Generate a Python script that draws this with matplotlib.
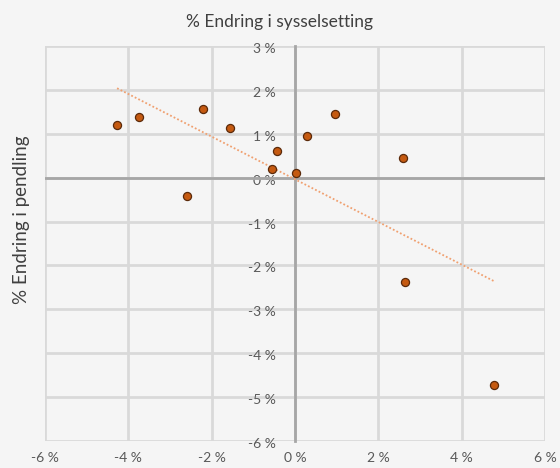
import numpy as np
import matplotlib
matplotlib.use("Agg")
import matplotlib.pyplot as plt
import matplotlib.transforms as mtransforms
from matplotlib.ticker import FuncFormatter

# Data: % change in employment (x) vs % change in commuting (y)
sysselsetting = [-4.27, -3.75, -2.21, -1.57, -0.44, -0.56, 0.02, 0.28, -2.60, 0.96, 2.59, 2.63, 4.78]
pendling = [1.19, 1.39, 1.57, 1.14, 0.60, 0.19, 0.11, 0.95, -0.41, 1.45, 0.45, -2.38, -4.72]
x_ticks = [-6, -4, -2, 0, 2, 4, 6]
y_ticks = [-6, -5, -4, -3, -2, -1, 0, 1, 2, 3]
title = "% Endring i sysselsetting"
ylabel = "% Endring i pendling"

plt.rcParams['font.family'] = ['Lato', 'DejaVu Sans']
bg = "#f5f5f5"
grid_c = "#d9d9d9"
axis_c = "#a6a6a6"
text_c = "#595959"

fig = plt.figure(figsize=(5.6, 4.68), dpi=100, facecolor=bg)
ax = fig.add_axes([45/560, 1-441/468, 500/560, 395/468])
ax.set_facecolor(bg)

ax.set_xlim(-6, 6)
ax.set_ylim(-6, 3)
ax.set_xticks(x_ticks)
ax.set_yticks(y_ticks)
fmt = FuncFormatter(lambda v, p: f"{int(round(v))} %")
ax.xaxis.set_major_formatter(fmt)
ax.yaxis.set_major_formatter(fmt)

ax.grid(True, color=grid_c, linewidth=2.0, zorder=0)
ax.set_axisbelow(True)
for s in ['top', 'right', 'bottom']:
    ax.spines[s].set_visible(False)
ax.spines['left'].set_position(('data', 0))
ax.spines['left'].set_color(axis_c)
ax.spines['left'].set_linewidth(2.0)
ax.spines['left'].set_zorder(1)
ax.axhline(0, color=axis_c, linewidth=2.0, zorder=1)

ax.tick_params(axis='both', length=0, labelsize=10, labelcolor=text_c)
ax.tick_params(axis='y', pad=14)
ax.tick_params(axis='x', pad=8)
off = mtransforms.ScaledTranslation(0, -2/100, fig.dpi_scale_trans)
for lbl in ax.get_yticklabels():
    lbl.set_transform(lbl.get_transform() + off)

# Trend line (linear fit)
xs = np.array(sysselsetting)
ys = np.array(pendling)
k, m = np.polyfit(xs, ys, 1)
xl = np.array([xs.min(), xs.max()])
ax.plot(xl, k*xl + m, linestyle=(0, (1, 1.2)), color="#f0a070", linewidth=1.3, zorder=2)

ax.scatter(xs, ys, s=34, color="#c55a11", edgecolor="#5b2a0a", linewidth=0.9, zorder=3)

fig.text(0.5, 1-22/468, title, ha='center', va='center', fontsize=12.5, color="#404040")
fig.text(22/560, 1-220/468, ylabel, ha='center', va='center', rotation=90, fontsize=13.5, color="#404040")

fig.savefig("out.png", dpi=100, facecolor=bg)
